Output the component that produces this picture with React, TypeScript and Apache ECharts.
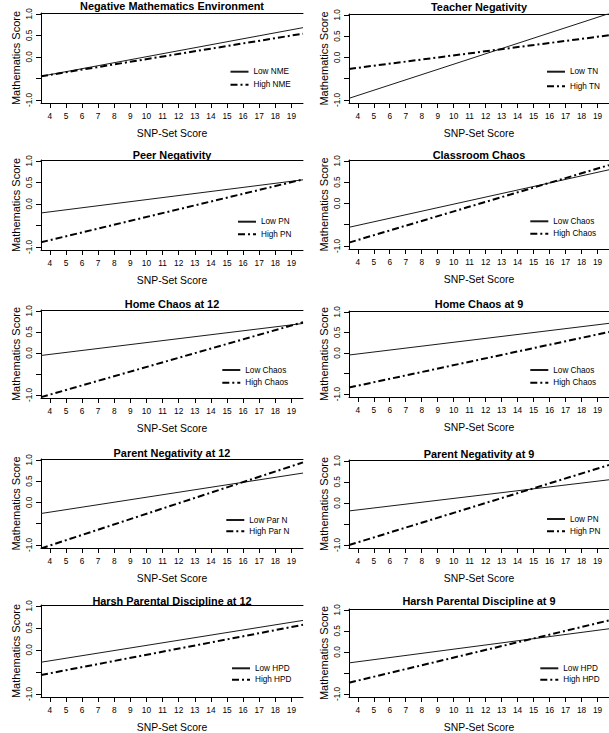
import React, { useEffect, useRef } from "react";
import * as echarts from "echarts";

// ---- data ----
const panelTitles = [
  "Negative Mathematics Environment",
  "Teacher Negativity",
  "Peer Negativity",
  "Classroom Chaos",
  "Home Chaos at 12",
  "Home Chaos at 9",
  "Parent Negativity at 12",
  "Parent Negativity at 9",
  "Harsh Parental Discipline at 12",
  "Harsh Parental Discipline at 9",
];
const lowLabels = ["Low NME", "Low TN", "Low PN", "Low Chaos", "Low Chaos", "Low Chaos", "Low Par N", "Low PN", "Low HPD", "Low HPD"];
const highLabels = ["High NME", "High TN", "High PN", "High Chaos", "High Chaos", "High Chaos", "High Par N", "High PN", "High HPD", "High HPD"];

// line values at the left edge (x = 3.45) and right edge (x = 19.72) of each panel
const xEnds = [3.45, 19.72];
const lowStart = [-0.45, -0.96, -0.21, -0.56, -0.06, -0.05, -0.26, -0.19, -0.28, -0.26];
const lowEnd = [0.68, 1.03, 0.56, 0.79, 0.7, 0.72, 0.69, 0.55, 0.67, 0.55];
const highStart = [-0.45, -0.27, -0.89, -0.92, -1.05, -0.84, -1.08, -1.0, -0.57, -0.73];
const highEnd = [0.54, 0.52, 0.57, 0.9, 0.73, 0.51, 0.94, 0.9, 0.57, 0.75];

const xTicks = [4, 5, 6, 7, 8, 9, 10, 11, 12, 13, 14, 15, 16, 17, 18, 19];
const yTicks = [-1, -0.5, 0, 0.5, 1];
const yRange = [-1.07, 1.02];

const xName = "SNP-Set Score";
const yName = "Mathematics Score";

const SANS = "'Liberation Sans', Arial, Helvetica, sans-serif";

// ---- layout ----
const colLeft = [41, 349];
const colRightEdge = [303, 609];
const gridTop = [[13, 14], [160, 160], [310, 311], [459, 460], [605, 609]];
const gridBottom = [[103, 103], [250, 249], [398, 397], [548, 548], [697, 697]];
const titleY = [[6, 7], [155, 154.5], [303.5, 304], [452.5, 453.5], [600.5, 600.5]];
const legendLeft = [229.5, 546, 237, 529.3, 221.3, 529.3, 225.3, 546, 231, 539.3];
const legendRows = [
  [72.7, 87.7], [72.7, 89.3], [222.7, 237.3], [222.3, 236.7], [371, 385.7],
  [371, 385.7], [521, 534.3], [520, 534.3], [669.3, 682.7], [669.3, 682.7],
];

const W = 609;
const H = 733;

export default function App() {
  const ref = useRef<HTMLDivElement>(null);
  useEffect(() => {
    if (!ref.current) return;
    const chart = echarts.init(ref.current, undefined, { renderer: "svg" });
    const grids: any[] = [];
    const xAxes: any[] = [];
    const yAxes: any[] = [];
    const series: any[] = [];
    const titles: any[] = [];
    const legends: any[] = [];
    const ITEM_H = 10;

    panelTitles.forEach((t, i) => {
      const row = Math.floor(i / 2);
      const col = i % 2;
      const left = colLeft[col];
      const right = W - colRightEdge[col];
      const top = gridTop[row][col];
      const bottom = H - gridBottom[row][col];
      grids.push({ left, right, top, bottom, containLabel: false });

      xAxes.push({
        type: "value",
        gridIndex: i,
        position: "bottom",
        min: xEnds[0],
        max: xEnds[1],
        name: xName,
        nameLocation: "middle",
        nameGap: 25,
        nameTextStyle: { fontFamily: SANS, fontSize: 10.4, color: "#000" },
        axisLine: { show: true, onZero: false, lineStyle: { color: "#000", width: 1 } },
        axisTick: { show: true, length: 5, customValues: xTicks, lineStyle: { color: "#000" } },
        axisLabel: {
          customValues: xTicks,
          margin: 9,
          fontFamily: SANS,
          fontSize: 8.3,
          color: "#000",
          formatter: (v: number) => String(v),
        },
        splitLine: { show: false },
      });
      xAxes.push({
        type: "value",
        gridIndex: i,
        position: "top",
        min: xEnds[0],
        max: xEnds[1],
        axisLine: { show: true, onZero: false, lineStyle: { color: "#000", width: 1 } },
        axisTick: { show: false },
        axisLabel: { show: false },
        splitLine: { show: false },
      });
      yAxes.push({
        type: "value",
        gridIndex: i,
        min: yRange[0],
        max: yRange[1],
        name: yName,
        nameLocation: "middle",
        nameGap: 20,
        nameTextStyle: { fontFamily: SANS, fontSize: 11, color: "#000" },
        axisLine: { show: true, onZero: false, lineStyle: { color: "#000", width: 1 } },
        axisTick: { show: true, length: 5, customValues: yTicks, lineStyle: { color: "#000" } },
        axisLabel: {
          customValues: yTicks,
          rotate: 90,
          margin: 8,
          fontFamily: SANS,
          fontSize: 8.2,
          color: "#000",
          formatter: (v: number) => (v === -0.5 ? "" : v.toFixed(1)),
        },
        splitLine: { show: false },
      });

      series.push({
        name: lowLabels[i],
        type: "line",
        xAxisIndex: 2 * i,
        yAxisIndex: i,
        data: [[xEnds[0], lowStart[i]], [xEnds[1], lowEnd[i]]],
        symbol: "none",
        silent: true,
        color: "#1a1a1a",
        itemStyle: { color: "#1a1a1a" },
        lineStyle: { color: "#1a1a1a", width: 1, type: "solid" },
      });
      series.push({
        name: highLabels[i],
        type: "line",
        xAxisIndex: 2 * i,
        yAxisIndex: i,
        data: [[xEnds[0], highStart[i]], [xEnds[1], highEnd[i]]],
        symbol: "none",
        silent: true,
        color: "#000",
        itemStyle: { color: "#000" },
        lineStyle: { color: "#000", width: 2, type: [7, 3, 2, 3] },
      });

      titles.push({
        text: t,
        left: (left + colRightEdge[col]) / 2,
        top: titleY[row][col],
        textAlign: "center",
        textVerticalAlign: "middle",
        padding: 0,
        textStyle: { fontFamily: SANS, fontSize: 10.9, fontWeight: "bold", color: "#000" },
      });

      const [y1, y2] = legendRows[i];
      legends.push({
        data: [lowLabels[i], highLabels[i]],
        orient: "vertical",
        left: legendLeft[i],
        top: y1 - ITEM_H / 2,
        itemWidth: 18,
        itemHeight: ITEM_H,
        itemGap: y2 - y1 - ITEM_H,
        padding: 0,
        selectedMode: false,
        itemStyle: { color: "rgba(0,0,0,0)", borderWidth: 0, opacity: 0 },
        textStyle: { fontFamily: SANS, fontSize: 8.2, color: "#000" },
      });
    });

    chart.setOption({
      animation: false,
      backgroundColor: "#fff",
      title: titles,
      grid: grids,
      xAxis: xAxes,
      yAxis: yAxes,
      legend: legends,
      series,
    });
    return () => chart.dispose();
  }, []);
  return (
    <div
      ref={ref}
      style={{ position: "fixed", left: 0, top: 0, width: W, height: H, background: "#fff" }}
    />
  );
}
